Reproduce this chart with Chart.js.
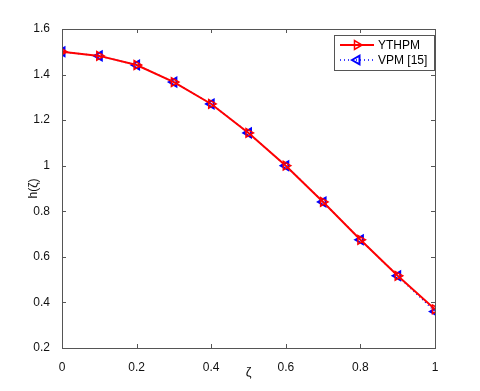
<!DOCTYPE html>
<html>
<head>
<meta charset="utf-8">
<script src="https://cdn.jsdelivr.net/npm/chart.js@4/dist/chart.umd.min.js"></script>
<style>
  html, body { margin: 0; padding: 0; background: #fff; }
  #wrap { width: 480px; height: 391px; }
</style>
</head>
<body>
<div id="wrap"><canvas id="chart" width="480" height="391"></canvas></div>
<script>
const zeta = [0, 0.1, 0.2, 0.3, 0.4, 0.5, 0.6, 0.7, 0.8, 0.9, 1.0];
const ythpm = [1.5, 1.482, 1.442, 1.367, 1.271, 1.144, 1.0, 0.841, 0.675, 0.517, 0.37];
const vpm = [1.5, 1.482, 1.442, 1.367, 1.271, 1.144, 1.0, 0.841, 0.675, 0.517, 0.36];
const xTicks = [0, 0.2, 0.4, 0.6, 0.8, 1];
const yTicks = [0.2, 0.4, 0.6, 0.8, 1, 1.2, 1.4, 1.6];

const FONT = "'Liberation Sans', Arial, sans-serif";
const AXIS_COLOR = "#555";

function toPoints(xs, ys) {
  return xs.map((x, i) => ({ x: x, y: ys[i] }));
}

// matlab-like box with inward ticks on all sides
const boxTicks = {
  id: "boxTicks",
  afterDatasetsDraw(chart) {
    const { ctx, chartArea: a, scales } = chart;
    ctx.save();
    ctx.strokeStyle = AXIS_COLOR;
    ctx.lineWidth = 1;
    ctx.strokeRect(a.left + 0.5, a.top + 0.5, a.right - a.left, a.bottom - a.top);
    const len = 4;
    ctx.beginPath();
    xTicks.forEach(v => {
      const px = Math.round(scales.x.getPixelForValue(v)) + 0.5;
      ctx.moveTo(px, a.bottom); ctx.lineTo(px, a.bottom - len);
      ctx.moveTo(px, a.top); ctx.lineTo(px, a.top + len);
    });
    yTicks.forEach(v => {
      const py = Math.round(scales.y.getPixelForValue(v)) + 0.5;
      ctx.moveTo(a.left, py); ctx.lineTo(a.left + len, py);
      ctx.moveTo(a.right, py); ctx.lineTo(a.right - len, py);
    });
    ctx.stroke();
    ctx.restore();
  }
};

// legend box in the top right corner of the plot
const boxLegend = {
  id: "boxLegend",
  afterDraw(chart) {
    const { ctx, chartArea: a } = chart;
    const w = 100, h = 35;
    const x0 = a.right - w - 1, y0 = a.top + 6;
    ctx.save();
    ctx.fillStyle = "#fff";
    ctx.fillRect(x0, y0, w, h);
    ctx.strokeStyle = AXIS_COLOR;
    ctx.lineWidth = 1;
    ctx.strokeRect(x0 + 0.5, y0 + 0.5, w, h);
    ctx.font = "12px " + FONT;
    ctx.textBaseline = "middle";
    chart.data.datasets.forEach((ds, i) => {
      const y = y0 + 10 + i * 15;
      ctx.strokeStyle = ds.borderColor;
      ctx.lineWidth = ds.borderWidth;
      ctx.setLineDash(ds.borderDash || []);
      ctx.beginPath();
      ctx.moveTo(x0 + 6, y); ctx.lineTo(x0 + 40, y);
      ctx.stroke();
      ctx.setLineDash([]);
      ctx.fillStyle = "rgba(0,0,0,0)";
      ctx.lineWidth = ds.pointBorderWidth;
      Chart.helpers.drawPoint(ctx, {
        pointStyle: "triangle",
        rotation: ds.pointRotation,
        radius: ds.pointRadius,
        borderWidth: ds.pointBorderWidth
      }, x0 + 23, y);
      ctx.fillStyle = "#000";
      ctx.fillText(ds.label, x0 + 44, y + 1);
    });
    ctx.restore();
  }
};

new Chart(document.getElementById("chart"), {
  type: "scatter",
  data: {
    datasets: [
      {
        label: "YTHPM",
        data: toPoints(zeta, ythpm),
        showLine: true,
        borderColor: "#ff0000",
        borderWidth: 2,
        pointStyle: "triangle",
        pointRotation: 90,
        pointRadius: 5,
        pointBorderWidth: 1.5,
        pointBorderColor: "#ff0000",
        pointBackgroundColor: "rgba(0,0,0,0)"
      },
      {
        label: "VPM [15]",
        data: toPoints(zeta, vpm),
        showLine: true,
        borderColor: "#0000ff",
        borderWidth: 1.5,
        borderDash: [1, 3],
        pointStyle: "triangle",
        pointRotation: -90,
        pointRadius: 5,
        pointBorderWidth: 2,
        pointBorderColor: "#0000ff",
        pointBackgroundColor: "rgba(0,0,0,0)"
      }
    ]
  },
  options: {
    responsive: false,
    animation: false,
    layout: { padding: { top: 29, right: 45, left: 0, bottom: 0 } },
    plugins: {
      legend: { display: false },
      tooltip: { enabled: false }
    },
    scales: {
      x: {
        type: "linear",
        min: 0,
        max: 1,
        afterBuildTicks: s => { s.ticks = xTicks.map(v => ({ value: v })); },
        afterFit: s => { s.height = 43; },
        grid: { display: false },
        border: { display: false },
        ticks: { color: "#111", font: { family: FONT, size: 12 }, padding: 4, callback: v => String(v) },
        title: { display: true, text: "ζ", color: "#111", font: { family: FONT, size: 13 }, padding: { top: 0, bottom: 11 } }
      },
      y: {
        type: "linear",
        min: 0.2,
        max: 1.6,
        afterBuildTicks: s => { s.ticks = yTicks.map(v => ({ value: v })); },
        afterFit: s => { s.width = 62; },
        grid: { display: false },
        border: { display: false },
        ticks: { color: "#111", font: { family: FONT, size: 12 }, padding: 4, callback: v => String(Math.round(v * 10) / 10) },
        title: { display: true, text: "h(ζ)", color: "#111", font: { family: FONT, size: 12 }, padding: { top: 26, bottom: 0 } }
      }
    }
  },
  plugins: [boxTicks, boxLegend]
});
</script>
</body>
</html>
